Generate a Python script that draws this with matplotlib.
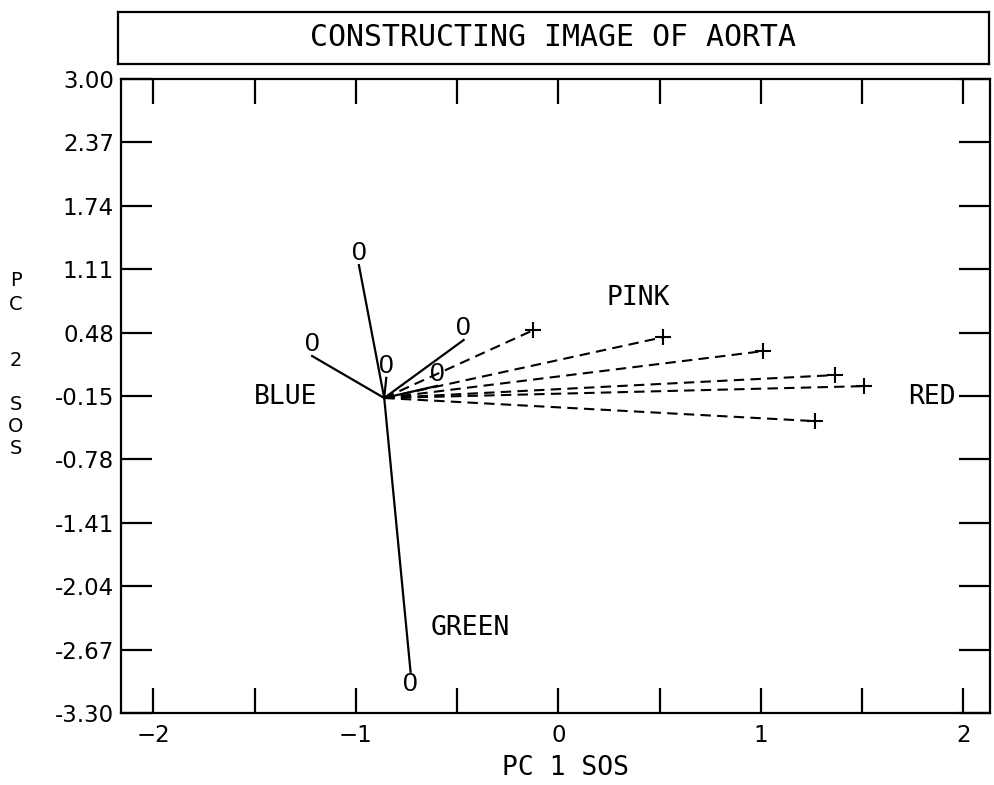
import matplotlib.pyplot as plt
from matplotlib.ticker import MultipleLocator
import numpy as np

plt.rcParams['font.family'] = ['DejaVu Sans Mono', 'DejaVu Sans']

# centre where all the vectors start
center = (-0.86, -0.17)

# solid vectors, ends marked with "0"
o_x = [-0.985, -1.216, -0.85, -0.468, -0.60, -0.73]
o_y = [1.15, 0.247, 0.03, 0.406, -0.05, -2.89]

# dashed vectors, ends marked with "+"
p_x = [-0.123, 0.519, 1.012, 1.368, 1.511, 1.269]
p_y = [0.505, 0.435, 0.296, 0.058, -0.052, -0.40]

# group names and where they are written
names = ['PINK', 'RED', 'BLUE', 'GREEN']
name_x = [0.395, 1.847, -1.348, -0.435]
name_y = [0.823, -0.16, -0.16, -2.457]

yticks = [3.00, 2.37, 1.74, 1.11, 0.48, -0.15, -0.78, -1.41, -2.04, -2.67, -3.30]
xticks = [-2, -1, 0, 1, 2]

fig = plt.figure(figsize=(9.94, 7.85), dpi=100)

# title box
tax = fig.add_axes([0.1187, 0.9185, 0.876, 0.0662])
tax.set_xticks([])
tax.set_yticks([])
for s in tax.spines.values():
    s.set_linewidth(1.6)
tax.text(0.5, 0.5, 'CONSTRUCTING IMAGE OF AORTA', ha='center', va='center',
         fontsize=21.5, transform=tax.transAxes)

ax = fig.add_axes([0.1217, 0.0917, 0.874, 0.8077])
for s in ax.spines.values():
    s.set_linewidth(1.6)

for x, y in zip(o_x, o_y):
    ax.plot([center[0], x], [center[1], y], color='black', lw=1.6)
    # the "0" sits beyond the end of its line
    va = 'bottom' if y > center[1] else 'top'
    ax.text(x, y, '0', ha='center', va=va, fontsize=19, family='Liberation Sans')

for x, y in zip(p_x, p_y):
    ax.plot([center[0], x], [center[1], y], color='black', lw=1.5,
            linestyle=(0, (5, 3)))
    ax.plot(x, y, marker='+', color='black', markersize=12, mew=1.5)

for n, x, y in zip(names, name_x, name_y):
    ax.text(x, y, n, ha='center', va='center', fontsize=19)

ax.set_xlim(-2.16, 2.13)
ax.set_ylim(-3.30, 3.00)
ax.set_yticks(yticks)
ax.set_yticklabels(['%.2f' % v for v in yticks])
ax.set_xticks(xticks)
ax.xaxis.set_minor_locator(MultipleLocator(0.5))
ax.tick_params(axis='both', which='both', direction='in', top=True, right=True,
               width=1.6, labelsize=16.5)
ax.tick_params(axis='y', length=22, pad=5)
ax.tick_params(axis='x', which='both', length=18, pad=8)
for lab in ax.get_xticklabels() + ax.get_yticklabels():
    lab.set_family('DejaVu Sans')
ax.set_xlabel('PC 1 SOS', fontsize=19, labelpad=6)
ax.xaxis.label.set_x(0.512)

# stacked y axis label
for ch, ypix in [('P', 281), ('C', 304), ('2', 360), ('S', 405), ('O', 427), ('S', 449)]:
    fig.text(16 / 994, 1 - ypix / 785, ch, ha='center', va='center', fontsize=14,
             family='DejaVu Sans')

fig.savefig('out.png', dpi=100)
